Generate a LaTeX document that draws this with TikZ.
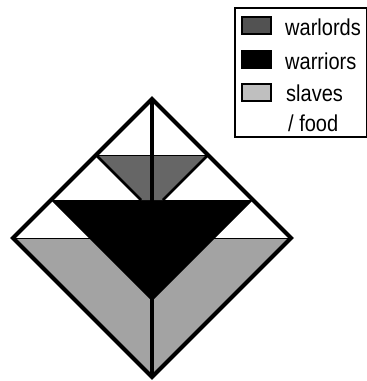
\documentclass[tikz,border=0pt]{standalone}
\usepackage{fontspec}
\setmainfont{Liberation Sans}
\usepackage{graphicx}
\definecolor{lordgray}{gray}{0.40}
\definecolor{slavegray}{gray}{0.64}
\definecolor{keylord}{gray}{0.32}
\definecolor{keyslave}{gray}{0.75}
\begin{document}
\begin{tikzpicture}[x=1pt,y=-1pt,
  outline/.style={line width=4pt, line join=miter},
  axis/.style={line width=3.6pt},
  inner/.style={line width=2.8pt},
  hair/.style={line width=0.8pt},
  swatch/.style={draw=black, line width=1.6pt},
  lbl/.style={anchor=base west, inner sep=0pt, font=\fontsize{23}{23}\selectfont}]
\useasboundingbox (0,0) rectangle (367,381);
% diamond corners
\coordinate (T) at (152,99);
\coordinate (L) at (13,238);
\coordinate (R) at (291,238);
\coordinate (B) at (152,377);
% level points on the edges
\coordinate (L1) at (96,155);
\coordinate (R1) at (208,155);
\coordinate (L2) at (51,200);
\coordinate (R2) at (253,200);
\coordinate (W1) at (141,200);
\coordinate (W2) at (163,200);
\coordinate (A2) at (152,301);
% fills
\fill[slavegray] (L) -- (R) -- (B) -- cycle;
\fill[black] (L2) -- (R2) -- (A2) -- cycle;
\fill[lordgray] (L1) -- (R1) -- (W2) -- (W1) -- cycle;
% inner lines
\draw[inner] (L1) -- (W1);
\draw[inner] (R1) -- (W2);
\draw[hair] (L1) -- (R1);
\draw[hair] (L) -- (R);
\draw[axis] (T) -- (B);
\draw[outline] (T) -- (R) -- (B) -- (L) -- cycle;
% legend
\coordinate (K1) at (235,8);
\coordinate (K2) at (366.5,137);
\draw[line width=1.8pt] (K1) rectangle (K2);
\filldraw[swatch, fill=keylord] (242,17) rectangle (271,34);
\filldraw[swatch, fill=black] (242,51) rectangle (271,68);
\filldraw[swatch, fill=keyslave] (242,84) rectangle (271,101);
\node[lbl] (tlords) at (285,35) {\scalebox{0.87}[1]{warlords}};
\node[lbl] (twarr) at (285,69) {\scalebox{0.87}[1]{warriors}};
\node[lbl] (tslav) at (286,101) {\scalebox{0.87}[1]{slaves}};
\node[lbl] (tfood) at (288,131) {\scalebox{0.87}[1]{/ food}};
\end{tikzpicture}
\end{document}
